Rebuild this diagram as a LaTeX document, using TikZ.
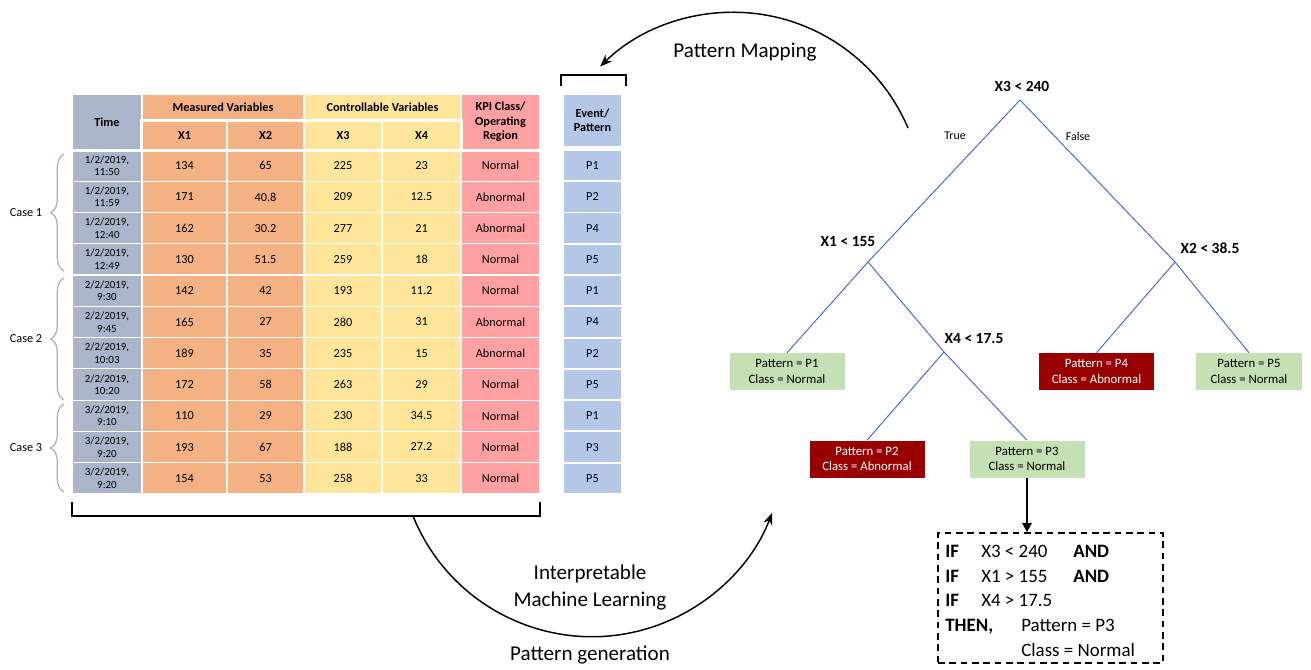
\documentclass[tikz,border=0pt]{standalone}
\usepackage{fontspec}
\setmainfont{Carlito}
\usetikzlibrary{decorations.pathreplacing,arrows.meta}

\definecolor{timec}{RGB}{171,181,201}
\definecolor{measc}{RGB}{244,177,131}
\definecolor{ctrlc}{RGB}{255,229,153}
\definecolor{kpic}{RGB}{255,160,163}
\definecolor{eventc}{RGB}{180,199,231}
\definecolor{leafc}{RGB}{197,224,180}
\definecolor{abnc}{RGB}{153,0,0}
\definecolor{branchc}{RGB}{68,114,196}
\definecolor{bracec}{RGB}{160,174,200}

\newcommand\tabfont{\fontsize{9.2pt}{10.8pt}\selectfont}
\newcommand\timefont{\fontsize{8.2pt}{9.4pt}\selectfont}
\newcommand\leaffont{\fontsize{9.6pt}{11.4pt}\selectfont}
\newcommand\splitfont{\fontsize{11.6pt}{13pt}\selectfont\bfseries}
\newcommand\edgefont{\fontsize{8.9pt}{10pt}\selectfont}
\newcommand\bigfont{\fontsize{15.8pt}{19pt}\selectfont}
\newcommand\rulefont{\fontsize{14.2pt}{17pt}\selectfont}

% one data row of the table plus its pattern cell
\newcommand\trow[9]{%
  \pgfmathsetmacro\ry{150+(#1-0.5)*31.27}%
  \node[cell,fill=timec,minimum width=52.5pt,font=\timefont] (t#1) at (107,\ry) {#2\\#3};%
  \node[cell,fill=measc,minimum width=63.75pt] (a#1) at (184.5,\ry) {#4};%
  \node[cell,fill=measc,minimum width=57.75pt] (b#1) at (265.5,\ry) {#5};%
  \node[cell,fill=ctrlc,minimum width=58.5pt] (c#1) at (343,\ry) {#6};%
  \node[cell,fill=ctrlc,minimum width=59.25pt] (d#1) at (421.5,\ry) {#7};%
  \node[cell,fill=kpic,minimum width=59.25pt] (k#1) at (500.5,\ry) {#8};%
  \node[cell,fill=eventc,minimum width=44.25pt,line width=1.4pt] (p#1) at (592.5,\ry) {#9};%
}

\begin{document}
\begin{tikzpicture}[x=0.75pt,y=-0.75pt,
  cell/.style={draw=white,line width=0.9pt,inner sep=0pt,minimum height=23.45pt,
    align=center,font=\tabfont},
  hcell/.style={cell,font=\tabfont\bfseries},
  casebrace/.style={draw=bracec,line width=0.9pt,decorate,
    decoration={brace,amplitude=10pt}},
  caselbl/.style={font=\tabfont,inner sep=0pt},
  tline/.style={branchc,line width=0.75pt},
  leaf/.style={fill=leafc,inner sep=0pt,minimum width=86.25pt,minimum height=27.75pt,
    align=center,font=\leaffont},
  abn/.style={leaf,fill=abnc,text=white},
  splitlbl/.style={font=\splitfont,inner sep=0pt},
  edgelbl/.style={font=\edgefont,inner sep=0pt},
  bigtxt/.style={font=\bigfont,inner sep=0pt},
  ruletxt/.style={font=\rulefont,inner sep=0pt,anchor=base west},
  bracket/.style={line width=1.1pt,black},
  cycle/.style={line width=1.1pt,-{Stealth[length=9pt,width=7pt]}}
]
\useasboundingbox (0,0) rectangle (1311,670);
\fill[white] (0,0) rectangle (1311,670);

% ---------- table header ----------
\node[hcell,fill=timec,minimum width=52.5pt,minimum height=42pt] (hTime) at (107,122) {Time};
\node[hcell,fill=measc,minimum width=121.5pt,minimum height=20.25pt] (hMeas) at (223,107.5) {Measured Variables};
\node[hcell,fill=measc,minimum width=63.75pt,minimum height=21.75pt] (hX1) at (184.5,135.5) {X1};
\node[hcell,fill=measc,minimum width=57.75pt,minimum height=21.75pt] (hX2) at (265.5,135.5) {X2};
\node[hcell,fill=ctrlc,minimum width=117.75pt,minimum height=20.25pt] (hCtrl) at (382.5,107.5) {Controllable Variables};
\node[hcell,fill=ctrlc,minimum width=58.5pt,minimum height=21.75pt] (hX3) at (343,135.5) {X3};
\node[hcell,fill=ctrlc,minimum width=59.25pt,minimum height=21.75pt] (hX4) at (421.5,135.5) {X4};
\node[hcell,fill=kpic,minimum width=59.25pt,minimum height=42pt] (hKPI) at (500.5,122) {KPI Class/\\Operating\\Region};
\node[hcell,fill=eventc,minimum width=44.25pt,minimum height=39.75pt,line width=1.4pt] (hEvent) at (592.5,120.5) {Event/\\Pattern};

% ---------- table body ----------
\trow{1}{1/2/2019,}{11:50}{134}{65}{225}{23}{Normal}{P1}
\trow{2}{1/2/2019,}{11:59}{171}{40.8}{209}{12.5}{Abnormal}{P2}
\trow{3}{1/2/2019,}{12:40}{162}{30.2}{277}{21}{Abnormal}{P4}
\trow{4}{1/2/2019,}{12:49}{130}{51.5}{259}{18}{Normal}{P5}
\trow{5}{2/2/2019,}{9:30}{142}{42}{193}{11.2}{Normal}{P1}
\trow{6}{2/2/2019,}{9:45}{165}{27}{280}{31}{Abnormal}{P4}
\trow{7}{2/2/2019,}{10:03}{189}{35}{235}{15}{Abnormal}{P2}
\trow{8}{2/2/2019,}{10:20}{172}{58}{263}{29}{Normal}{P5}
\trow{9}{3/2/2019,}{9:10}{110}{29}{230}{34.5}{Normal}{P1}
\trow{10}{3/2/2019,}{9:20}{193}{67}{188}{27.2}{Normal}{P3}
\trow{11}{3/2/2019,}{9:20}{154}{53}{258}{33}{Normal}{P5}

% heavier white rules inside the header
\draw[white,line width=1.8pt] (hX1.south west) -- (hX1.north west) -- (hX4.north east) -- (hX4.south east);
\draw[white,line width=1.8pt] (hTime.south west) -- (hKPI.south east);

% ---------- case braces ----------
\draw[casebrace] (64,271) -- (64,154) coordinate[midway] (b1);
\draw[casebrace] (64,400) -- (64,278) coordinate[midway] (b2);
\draw[casebrace] (64,492) -- (64,404) coordinate[midway] (b3);
\node[caselbl] (case1) at (26,212.5) {Case 1};
\node[caselbl] (case2) at (26,339) {Case 2};
\node[caselbl] (case3) at (26,448) {Case 3};

% ---------- brackets ----------
\draw[bracket] (72,502) -- (72,516) -- (540,516) -- (540,502);
\draw[bracket] (561,86) -- (561,75) -- (626,75) -- (626,86);

% ---------- cycle arrows ----------
\coordinate (genstart) at (413,516);
\coordinate (mapstart) at (908,128);
\draw[cycle] (genstart) arc[start angle=202, end angle=339, radius=144.75pt] coordinate (genend);
\draw[cycle] (mapstart) arc[start angle=23, end angle=134.4, radius=142.5pt] coordinate (mapend);
\node[bigtxt] (lblmap) at (745,52) {Pattern Mapping};
\node[bigtxt] (lbliml1) at (590,574) {Interpretable};
\node[bigtxt] (lbliml2) at (590,601) {Machine Learning};
\node[bigtxt] (lblgen) at (590,655) {Pattern generation};

% ---------- decision tree ----------
\coordinate (r) at (1020,100);
\coordinate (n1) at (868,262);
\coordinate (n2) at (1175,262);
\coordinate (n4) at (944,352);

\node[splitlbl] (sx3) at (1022,86) {X3 < 240};
\node[splitlbl] (sx1) at (848,242) {X1 < 155};
\node[splitlbl] (sx2) at (1210,248) {X2 < 38.5};
\node[splitlbl] (sx4) at (974,339) {X4 < 17.5};
\node[edgelbl] (etrue) at (955,136) {True};
\node[edgelbl] (efalse) at (1078,136) {False};

\node[leaf] (l1) at (787,371.5) {Pattern = P1\\Class = Normal};
\node[abn]  (l4) at (1096.5,371.5) {Pattern = P4\\Class = Abnormal};
\node[leaf,minimum width=79.5pt] (l5) at (1249,371.5) {Pattern = P5\\Class = Normal};
\node[abn]  (l2) at (867,459) {Pattern = P2\\Class = Abnormal};
\node[leaf] (l3) at (1027,459) {Pattern = P3\\Class = Normal};

\draw[tline] (r) -- (n1);
\draw[tline] (r) -- (n2);
\draw[tline] (n1) -- (l1.north);
\draw[tline] (n1) -- (n4);
\draw[tline] (n4) -- (l2.north);
\draw[tline] (n4) -- (l3.north);
\draw[tline] (n2) -- (l4.north);
\draw[tline] (n2) -- (l5.north);

% ---------- extracted rule ----------
\node[draw,dashed,dash pattern=on 5pt off 3.5pt,line width=1.1pt,
  minimum width=168.75pt,minimum height=97.5pt,inner sep=0pt] (rule) at (1050.5,598) {};
\draw[line width=1.5pt,-{Triangle[length=7pt,width=7pt]}] (l3.south) -- (rule.north -| l3.south);

\node[ruletxt] (if1) at (945,557) {\bfseries IF};
\node[ruletxt] (c1) at (981,557) {X3 < 240};
\node[ruletxt] (and1) at (1073,557) {\bfseries AND};
\node[ruletxt] (if2) at (945,582) {\bfseries IF};
\node[ruletxt] (c2) at (981,582) {X1 > 155};
\node[ruletxt] (and2) at (1073,582) {\bfseries AND};
\node[ruletxt] (if3) at (945,606) {\bfseries IF};
\node[ruletxt] (c3) at (981,606) {X4 > 17.5};
\node[ruletxt] (then) at (945,631) {\bfseries THEN,};
\node[ruletxt] (res1) at (1021,631) {Pattern = P3};
\node[ruletxt] (res2) at (1021,656) {Class = Normal};
\end{tikzpicture}
\end{document}
